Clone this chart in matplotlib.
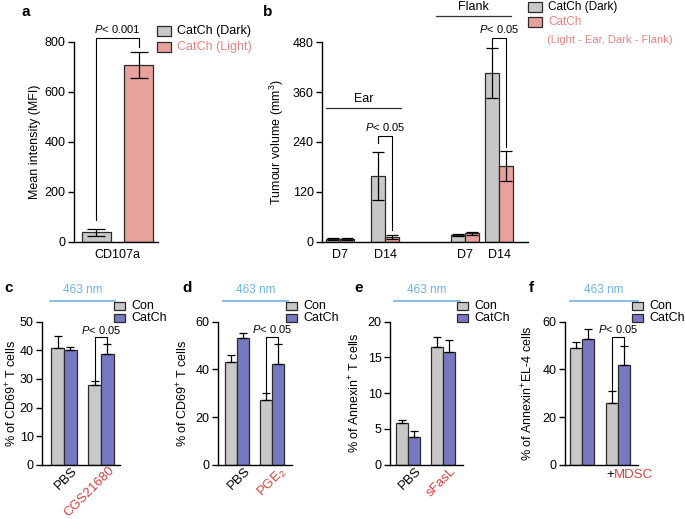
import matplotlib
matplotlib.use("Agg")
import matplotlib.pyplot as plt
import matplotlib.patches as mpatches
from matplotlib.transforms import ScaledTranslation
import numpy as np

plt.rcParams["font.family"] = ["Liberation Sans", "DejaVu Sans"]
plt.rcParams["mathtext.fontset"] = "custom"
plt.rcParams["mathtext.rm"] = "Liberation Sans"
plt.rcParams["mathtext.it"] = "Liberation Sans:italic"
plt.rcParams["font.size"] = 8.5

# ---- data ----
a_labels = ["CatCh (Dark)", "CatCh (Light)"]
a_vals = [37, 707]
a_err = [13, 51]

b_days = ["D7", "D14", "D7", "D14"]
b_dark = [8, 158, 17, 405]
b_dark_err = [2, 57, 2, 60]
b_light = [8, 12, 21, 182]
b_light_err = [2, 4, 3, 36]

c_cats = ["PBS", "CGS21680"]
c_con = [40.8, 27.8]
c_con_err = [4.3, 1.4]
c_catch = [40.1, 38.7]
c_catch_err = [1.2, 3.5]

d_cats = ["PBS", "PGE$_2$"]
d_con = [42.9, 27.0]
d_con_err = [3.0, 3.2]
d_catch = [53.0, 42.3]
d_catch_err = [2.4, 8.3]

e_cats = ["PBS", "sFasL"]
e_con = [5.8, 16.4]
e_con_err = [0.5, 1.5]
e_catch = [3.9, 15.7]
e_catch_err = [0.8, 1.7]

f_con = [49.0, 25.8]
f_con_err = [2.4, 5.2]
f_catch = [52.7, 42.0]
f_catch_err = [4.2, 8.0]

# ---- style ----
GRAY = "#c8c8c8"
PINK = "#e8a19c"
BLUE = "#7679c2"
EDGE = "#2a2a2a"
RED = "#d8413f"
PINK_TXT = "#e8837f"
SKY = "#6cb4e8"

W, H = 685, 519
fig = plt.figure(figsize=(W / 100, H / 100), dpi=100)


def fx(x):
    return x / W


def fy(y):
    return 1 - y / H


def axes_px(left, top, right, bottom):
    ax = fig.add_axes([fx(left), fy(bottom), (right - left) / W, (bottom - top) / H])
    for s in ["top", "right"]:
        ax.spines[s].set_visible(False)
    ax.spines["left"].set_linewidth(1.0)
    ax.spines["bottom"].set_linewidth(1.0)
    ax.tick_params(axis="y", length=4, width=1.0, pad=2, labelsize=9)
    ax.tick_params(axis="x", length=0, pad=5, labelsize=9)
    return ax


def legend_px(x, ys, colors, labels, txt_colors, w=14, h=10, fs=9):
    for y, c, lab, tc in zip(ys, colors, labels, txt_colors):
        fig.add_artist(mpatches.Rectangle((fx(x), fy(y + h / 2)), w / W, h / H,
                                          transform=fig.transFigure, facecolor=c,
                                          edgecolor=EDGE, linewidth=0.9))
        fig.text(fx(x + w + 6), fy(y), lab, color=tc, fontsize=fs, va="center", ha="left")


def bracket(ax, x0, x1, top, left_low, right_low, label, ty):
    ax.plot([x0, x0, x1, x1], [left_low, top, top, right_low], color="black",
            lw=0.8, clip_on=False)
    ax.text((x0 + x1) / 2, ty, label, ha="center", va="center", fontsize=8, clip_on=False)


# ---- panel a ----
ax = axes_px(74, 41.7, 158, 241.7)
ax.bar([0, 1], a_vals, width=0.68, color=[GRAY, PINK], edgecolor=EDGE, linewidth=0.9)
ax.errorbar([0, 1], a_vals, yerr=a_err, fmt="none", ecolor="black", elinewidth=0.9,
            capsize=6.5, capthick=0.9)
ax.set_xlim(-0.53, 1.45)
ax.set_ylim(0, 800)
ax.set_yticks([0, 200, 400, 600, 800])
ax.set_xticks([0.5])
ax.set_xticklabels(["CD107a"])
bracket(ax, 0, 1, 813, 87, 780, "$P$< 0.001", 852)
fig.text(fx(35), fy(142), "Mean intensity (MFI)", rotation=90, ha="center", va="center", fontsize=9)
legend_px(157, [31, 47], [GRAY, PINK], a_labels, ["black", PINK_TXT])
fig.text(fx(22), fy(12), "a", fontsize=11, fontweight="bold", va="center")

# ---- panel b ----
ax = axes_px(322, 42, 528, 242)
bx = np.array([0, 1.05, 2.9, 3.7])
bw = 0.32
ax.bar(bx - bw / 2, b_dark, width=bw, color=GRAY, edgecolor=EDGE, linewidth=0.9)
ax.bar(bx + bw / 2, b_light, width=bw, color=PINK, edgecolor=EDGE, linewidth=0.9)
ax.errorbar(bx - bw / 2, b_dark, yerr=b_dark_err, fmt="none", ecolor="black",
            elinewidth=0.9, capsize=4.3, capthick=0.9)
ax.errorbar(bx + bw / 2, b_light, yerr=b_light_err, fmt="none", ecolor="black",
            elinewidth=0.9, capsize=4.3, capthick=0.9)
ax.set_xlim(-0.42, 4.37)
ax.set_ylim(0, 480)
ax.set_yticks([0, 120, 240, 360, 480])
ax.set_xticks(bx)
ax.set_xticklabels(b_days)
ax.plot([-0.33, 1.42], [322, 322], color="#333333", lw=0.9, clip_on=False)
ax.text(0.55, 343, "Ear", ha="center", va="center", fontsize=9)
ax.plot([2.23, 3.98], [542, 542], color="#333333", lw=0.9, clip_on=False)
ax.text(3.1, 564, "Flank", ha="center", va="center", fontsize=9, clip_on=False)
bracket(ax, bx[1] - bw / 2, bx[1] + bw / 2, 254, 237, 30, "$P$< 0.05", 275)
bracket(ax, bx[3] - bw / 2, bx[3] + bw / 2, 490, 466, 229, "$P$< 0.05", 511)
fig.text(fx(277), fy(142), "Tumour volume (mm$^{3}$)", rotation=90, ha="center", va="center", fontsize=9)
legend_px(528, [7, 22], [GRAY, PINK], ["CatCh (Dark)", "CatCh"], ["black", PINK_TXT], fs=8.5)
fig.text(fx(547), fy(40), "(Light - Ear, Dark - Flank)", color=PINK_TXT, fontsize=8,
         va="center")
fig.text(fx(263), fy(12), "b", fontsize=11, fontweight="bold", va="center")

# ---- bottom panels ----
bottom_specs = [
    ("c", 42, 120, -0.59, 1.51, 50, 10, c_cats, c_con, c_con_err, c_catch, c_catch_err,
     "% of CD69$^{+}$ T cells", 12, (50, 115), (44.7, 29.2, 42.3, 47.2)),
    ("d", 218, 292, -0.54, 1.57, 60, 20, d_cats, d_con, d_con_err, d_catch, d_catch_err,
     "% of CD69$^{+}$ T cells", 183, (223, 288), (53.7, 30.2, 50.6, 56.8)),
    ("e", 390, 463, -0.51, 1.57, 20, 5, e_cats, e_con, e_con_err, e_catch, e_catch_err,
     "% of Annexin$^{+}$ T cells", 355, (394, 460), None),
    ("f", 565, 638, -0.47, 1.56, 60, 20, None, f_con, f_con_err, f_catch, f_catch_err,
     "% of Annexin$^{+}$EL-4 cells", 528, (570, 638), (53.7, 31.3, 50.2, 56.8)),
]

shift = ScaledTranslation(5 / 72, 1 / 72, fig.dpi_scale_trans)

for (letter, left, right, x0, x1, ymax, ystep, cats, con, con_err, cat, cat_err,
     ylab, ylab_x, line_x, br) in bottom_specs:
    ax = axes_px(left, 321.7, right, 464.7)
    xs = np.arange(2)
    w = 0.34
    ax.bar(xs - w / 2, con, width=w, color=GRAY, edgecolor=EDGE, linewidth=0.9)
    ax.bar(xs + w / 2, cat, width=w, color=BLUE, edgecolor=EDGE, linewidth=0.9)
    ax.errorbar(xs - w / 2, con, yerr=[np.zeros(2), con_err], fmt="none", ecolor="black",
                elinewidth=0.9, capsize=2.8, capthick=0.9)
    ax.errorbar(xs + w / 2, cat, yerr=[np.zeros(2), cat_err], fmt="none", ecolor="black",
                elinewidth=0.9, capsize=2.8, capthick=0.9)
    ax.set_xlim(x0, x1)
    ax.set_ylim(0, ymax)
    ax.set_yticks(np.arange(0, ymax + 0.1, ystep))
    ax.set_xticks(xs)
    if cats is not None:
        ax.set_xticklabels(cats, rotation=45, ha="right", va="top", rotation_mode="anchor",
                           fontsize=9.5)
        ax.tick_params(axis="x", pad=1)
        for lab in ax.get_xticklabels():
            lab.set_transform(lab.get_transform() + shift)
        ax.get_xticklabels()[1].set_color(RED)
    else:
        ax.set_xticklabels(["", ""])
        ax.text(1 - 0.1, -0.07, "+", transform=ax.get_xaxis_transform(), ha="right",
                va="center", fontsize=9.5)
        ax.text(1 - 0.1, -0.07, "MDSC", transform=ax.get_xaxis_transform(), ha="left",
                va="center", fontsize=9.5, color=RED)
    if br is not None:
        bracket(ax, 1 - w / 2, 1 + w / 2, br[0], br[1], br[2], "$P$< 0.05", br[3])
    fig.text(fx(ylab_x), fy(393), ylab, rotation=90, ha="center", va="center", fontsize=9)
    fig.add_artist(plt.Line2D([fx(line_x[0]), fx(line_x[1])], [fy(301), fy(301)],
                              color=SKY, lw=1.2, transform=fig.transFigure))
    fig.text(fx((line_x[0] + line_x[1]) / 2), fy(290), "463 nm", color=SKY, fontsize=8.5,
             ha="center", va="center")
    legend_px(right - 6, [306, 318], [GRAY, BLUE], ["Con", "CatCh"], ["black", "black"],
              w=11, h=8, fs=9)
    fig.text(fx(left - 36 if letter != "c" else 4), fy(288), letter, fontsize=11,
             fontweight="bold", va="center")

fig.savefig("out.png", dpi=100)
